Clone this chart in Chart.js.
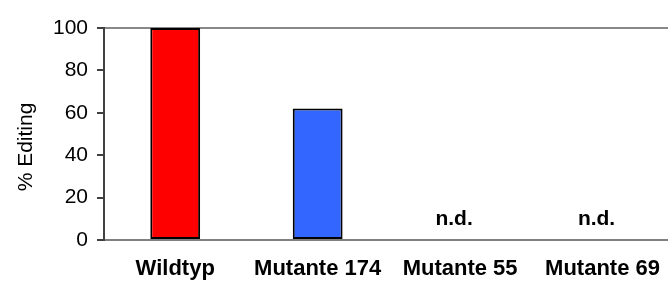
<!DOCTYPE html>
<html>
<head>
<meta charset="utf-8">
<script src="https://cdn.jsdelivr.net/npm/chart.js@4/dist/chart.umd.min.js"></script>
<style>
html, body { margin: 0; padding: 0; overflow: hidden; background: #fff; }
#wrap { position: relative; width: 676px; height: 282px; }
</style>
</head>
<body>
<div id="wrap"><canvas id="c"></canvas></div>
<script>
const categories = ['Wildtyp', 'Mutante 174', 'Mutante 55', 'Mutante 69'];
const editing = [100, 62, null, null];
const barColors = ['#FF0000', '#3366FF', '#3366FF', '#3366FF'];
const missingLabel = 'n.d.';
const yTitle = '% Editing';

const FONT = '"Liberation Sans", Arial, sans-serif';

const ndPlugin = {
  id: 'ndLabels',
  afterDatasetsDraw(chart) {
    const ctx = chart.ctx;
    const xs = chart.scales.x, ys = chart.scales.y;
    ctx.save();
    ctx.font = 'bold 21px ' + FONT;
    ctx.fillStyle = '#000';
    ctx.textAlign = 'center';
    ctx.textBaseline = 'alphabetic';
    editing.forEach((v, i) => {
      if (v === null) {
        ctx.fillText(missingLabel, xs.getPixelForValue(i) - 6, ys.getPixelForValue(0) - 15);
      }
    });
    // y-axis title (sits slightly below the axis centre in the original)
    ctx.font = '21px ' + FONT;
    ctx.textBaseline = 'middle';
    ctx.translate(26, (ys.top + ys.bottom) / 2 + 13);
    ctx.rotate(-Math.PI / 2);
    ctx.fillText(yTitle, 0, 0);
    ctx.restore();
  }
};

new Chart(document.getElementById('c'), {
  type: 'bar',
  data: {
    labels: categories,
    datasets: [{
      data: editing,
      backgroundColor: barColors,
      borderColor: '#000',
      borderWidth: 2,
      borderSkipped: false,
      categoryPercentage: 1,
      barPercentage: 0.35
    }]
  },
  options: {
    responsive: true,
    maintainAspectRatio: false,
    animation: false,
    layout: { padding: { top: 28, right: 0, bottom: 0, left: 0 } },
    plugins: { legend: { display: false }, tooltip: { enabled: false } },
    scales: {
      x: {
        afterFit(scale) { scale.height = 42; },
        grid: { display: false, drawTicks: false },
        border: { display: true, color: '#808080', width: 2 },
        ticks: { color: '#000', padding: 16, font: { family: FONT, size: 22, weight: 'bold' }, maxRotation: 0, autoSkip: false }
      },
      y: {
        min: 0, max: 100,
        afterFit(scale) { scale.width = 104; },
        ticks: { stepSize: 20, color: '#000', padding: 9, font: { family: FONT, size: 21 } },
        grid: {
          drawOnChartArea: true,
          color: (c) => (c.tick && c.tick.value === 100 ? '#888888' : 'rgba(0,0,0,0)'),
          lineWidth: 2,
          tickLength: 7,
          tickColor: '#404040',
          tickWidth: 2
        },
        border: { display: true, color: '#404040', width: 2 },
        title: { display: false }
      }
    }
  },
  plugins: [ndPlugin]
});
</script>
</body>
</html>
